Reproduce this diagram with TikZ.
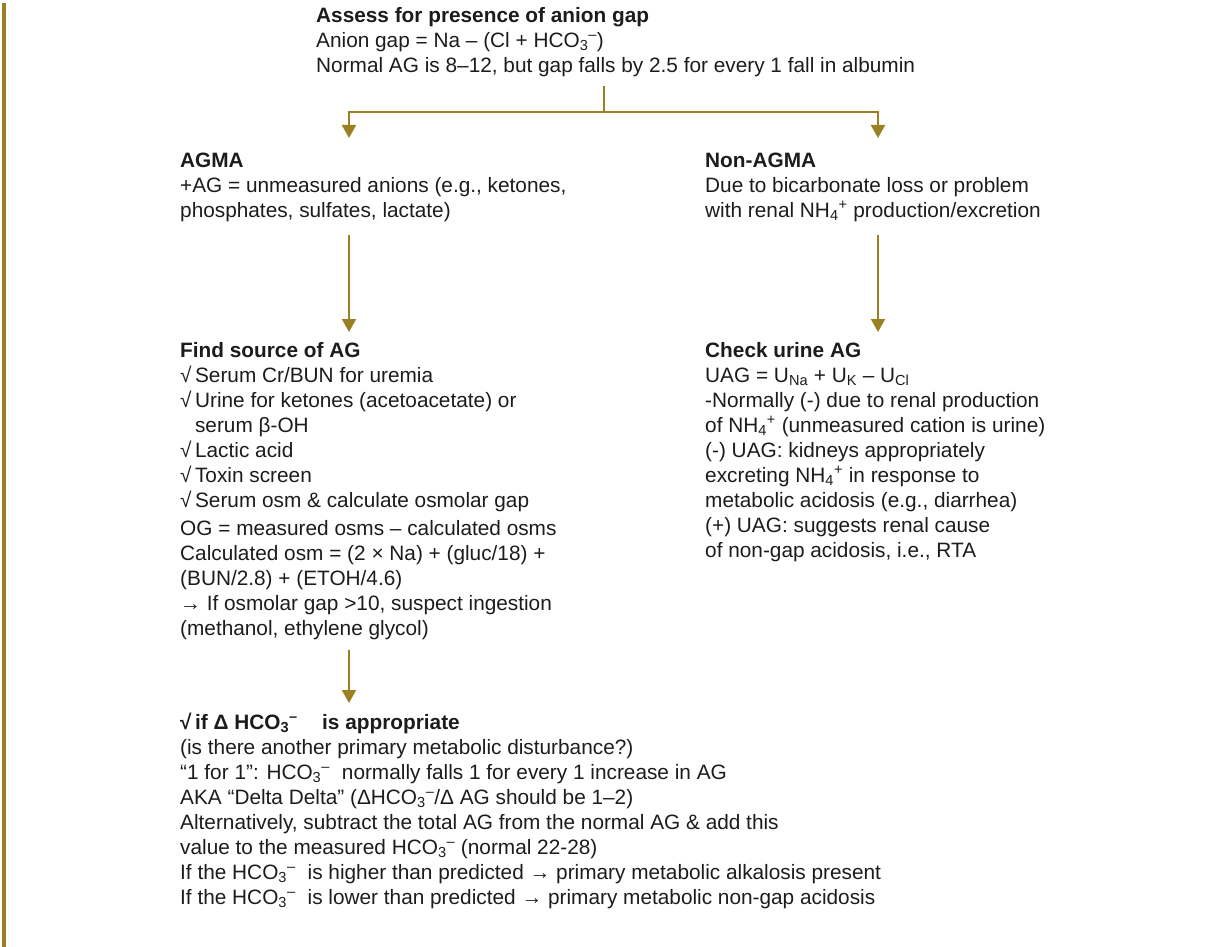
\documentclass[tikz,border=0pt]{standalone}
\usepackage{fontspec}
\setmainfont{Liberation Sans}
\usetikzlibrary{arrows.meta}

\definecolor{gold}{HTML}{9A8023}
\definecolor{ink}{HTML}{1C1C1C}

% chemistry and checklist shorthands
\newcommand\hcoiii{HCO\textsubscript{3}\textsuperscript{–}}
\newcommand\nhiv{NH\textsubscript{4}\textsuperscript{+}}
\newcommand\chk{√\,}

\begin{document}
\begin{tikzpicture}[x=1pt,y=-1pt,
  txt/.style={anchor=north west, inner sep=0pt, align=left, text=ink,
              font=\fontsize{20.8}{25}\selectfont},
  link/.style={draw=gold, line width=2pt},
  arr/.style={link, -{Triangle[width=14pt,length=13pt]}}]
\useasboundingbox (0,0) rectangle (1215,947);

% side rule
\fill[gold] (2,3) rectangle (6,947);

% column axes for the connectors
\coordinate (lcol) at (349,0);
\coordinate (rcol) at (878,0);
\coordinate (fork) at (604,112);

\node[txt] (top) at (316,4.5) {\strut\textbf{Assess for presence of anion gap}\\
  Anion gap = Na – (Cl + \hcoiii)\\
  Normal AG is 8–12, but gap falls by 2.5 for every 1 fall in albumin\strut};

\node[txt] (agma) at (180,149.5) {\strut\textbf{AGMA}\\
  +AG = unmeasured anions (e.g., ketones,\\
  phosphates, sulfates, lactate)\strut};

\node[txt] (nonagma) at (705,149.5) {\strut\textbf{Non-AGMA}\\
  Due to bicarbonate loss or problem\\
  with renal \nhiv{} production/excretion\strut};

\node[txt] (find) at (180,339.5) {\strut\textbf{Find source of AG}\\
  \chk Serum Cr/BUN for uremia\\
  \chk Urine for ketones (acetoacetate) or\\
  \hphantom{\chk}serum β-OH\\
  \chk Lactic acid\\
  \chk Toxin screen\\
  \chk Serum osm \& calculate osmolar gap\\[3pt]
  OG = measured osms – calculated osms\\
  Calculated osm = (2 × Na) + (gluc/18) +\\
  (BUN/2.8) + (ETOH/4.6)\\
  → If osmolar gap >10, suspect ingestion\\
  (methanol, ethylene glycol)\strut};

\node[txt] (check) at (705,339.5) {\strut\textbf{Check urine AG}\\
  UAG = U\textsubscript{Na} + U\textsubscript{K} – U\textsubscript{Cl}\\
  -Normally (-) due to renal production\\
  of \nhiv{} (unmeasured cation is urine)\\
  (-) UAG: kidneys appropriately\\
  excreting \nhiv{} in response to\\
  metabolic acidosis (e.g., diarrhea)\\
  (+) UAG: suggests renal cause\\
  of non-gap acidosis, i.e., RTA\strut};

\node[txt] (delta) at (180,711.5) {\strut\textbf{\chk if Δ \hcoiii\hspace{0.9em} is appropriate}\\
  (is there another primary metabolic disturbance?)\\
  “1 for 1”: \hcoiii\hspace{0.3em} normally falls 1 for every 1 increase in AG\\
  AKA “Delta Delta” (Δ\hcoiii/Δ AG should be 1–2)\\
  Alternatively, subtract the total AG from the normal AG \& add this\\
  value to the measured \hcoiii{} (normal 22-28)\\
  If the \hcoiii\hspace{0.3em} is higher than predicted → primary metabolic alkalosis present\\
  If the \hcoiii\hspace{0.3em} is lower than predicted → primary metabolic non-gap acidosis\strut};

% connectors
\draw[link, shorten <=6.5pt] (top.south -| fork) -- (fork);
\draw[arr, shorten >=11.5pt] (fork) -| (agma.north -| lcol);
\draw[arr, shorten >=11.5pt] (fork) -| (nonagma.north -| rcol);
\draw[arr, shorten <=10.5pt, shorten >=7.5pt] (agma.south -| lcol) -- (find.north -| lcol);
\draw[arr, shorten <=10.5pt, shorten >=7.5pt] (nonagma.south -| rcol) -- (check.north -| rcol);
\draw[arr, shorten <=7.5pt, shorten >=8.5pt] (find.south -| lcol) -- (delta.north -| lcol);
\end{tikzpicture}
\end{document}
